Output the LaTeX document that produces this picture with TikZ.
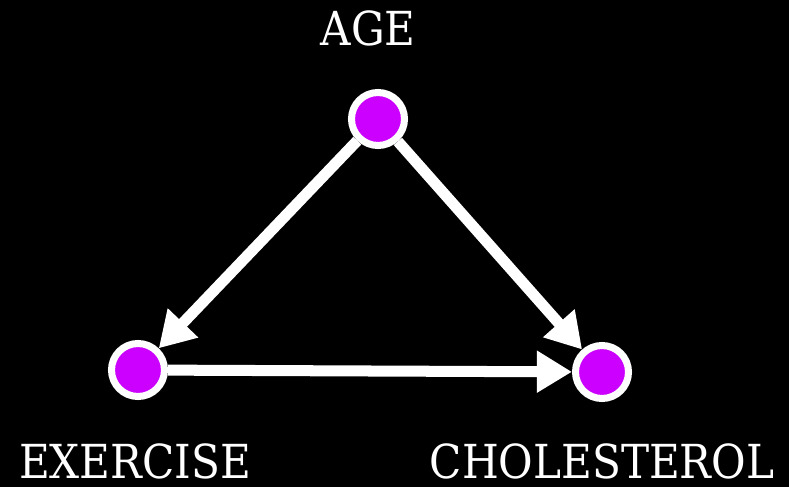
\documentclass[tikz,border=0pt]{standalone}
\usepackage{fontspec}
\setmainfont{DejaVu Serif Condensed}
\usetikzlibrary{arrows.meta}
\definecolor{nodepurple}{HTML}{CC00FF}
\tikzset{
  var/.style={circle, draw=white, fill=nodepurple, line width=6pt, minimum size=1.59cm, inner sep=0pt},
  varlabel/.style={text=white, anchor=base, inner sep=0pt, font=\fontsize{40}{44}\selectfont},
  cause/.style={draw=white, line width=9.4pt, -{Triangle[length=30pt,width=34pt]}}
}
\begin{document}
\begin{tikzpicture}[x=0.03cm, y=-0.03cm]
  \fill[black] (0,0) rectangle (789,487);
  \useasboundingbox (0,0) rectangle (789,487);
  % variables
  \node[var] (age) at (378,119) {};
  \node[var] (exercise) at (138,370) {};
  \node[var] (chol) at (602,372) {};
  \node[varlabel] (agelabel) at (368,46) {AGE};
  \node[varlabel] (exlabel) at (135,478) {EXERCISE};
  \node[varlabel] (chollabel) at (602,478) {CHOLESTEROL};
  % causal arrows
  \draw[cause] (age) -- (exercise);
  \draw[cause] (age) -- (chol);
  \draw[cause] (exercise) -- (chol);
\end{tikzpicture}
\end{document}
